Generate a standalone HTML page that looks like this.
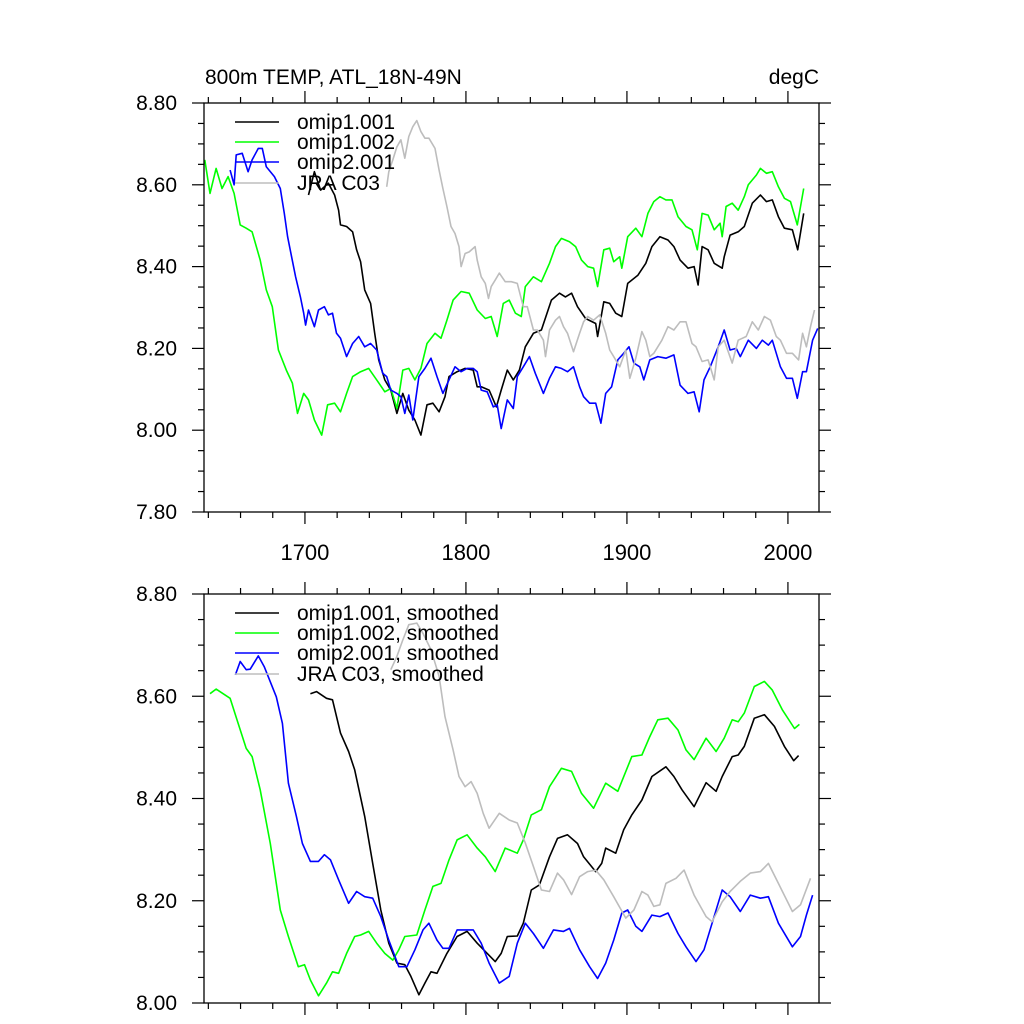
<!DOCTYPE html>
<html><head><meta charset="utf-8"><style>
html,body{margin:0;padding:0;background:#fff}
svg{display:block}
text{font-family:"Liberation Sans",sans-serif;fill:#000}
</style></head><body>
<svg id="chart" width="1024" height="1024" viewBox="0 0 1024 1024" xmlns="http://www.w3.org/2000/svg">
<text x="205" y="84" font-size="21">800m TEMP, ATL_18N-49N</text>
<text x="819" y="84" font-size="21" text-anchor="end">degC</text>
</svg>
<script>
// ---- Top panel (raw) ----
const top1Years=[1702.2,1705.9,1709.7,1714.6,1718.4,1720.9,1722.1,1725.9,1729.6,1732.1,1734.6,1737.1,1740.8,1743.3,1745.8,1749.6,1753.3,1757.1,1760.8,1764.5,1768.3,1772.0,1775.8,1779.5,1783.3,1787.0,1789.5,1794.5,1799.5,1804.5,1807.0,1809.5,1814.4,1818.9,1821.9,1825.7,1829.4,1833.2,1836.9,1841.9,1846.9,1853.1,1858.1,1861.8,1865.6,1869.3,1874.3,1880.6,1881.8,1885.6,1889.3,1893.0,1896.8,1900.5,1906.8,1911.7,1915.5,1920.5,1925.5,1929.2,1933.0,1937.9,1941.7,1944.2,1946.7,1950.4,1954.2,1959.2,1960.4,1964.1,1969.1,1972.9,1977.9,1982.9,1986.6,1990.3,1994.1,1997.8,2002.8,2006.1,2009.8];
const top1Vals=[8.575,8.632,8.587,8.604,8.575,8.538,8.502,8.498,8.485,8.441,8.412,8.343,8.310,8.237,8.172,8.123,8.098,8.041,8.090,8.049,8.025,7.988,8.062,8.066,8.045,8.082,8.131,8.143,8.151,8.147,8.106,8.106,8.098,8.057,8.098,8.147,8.123,8.147,8.204,8.237,8.245,8.318,8.335,8.326,8.335,8.302,8.273,8.261,8.229,8.314,8.310,8.286,8.278,8.359,8.379,8.408,8.449,8.473,8.465,8.449,8.416,8.396,8.400,8.355,8.449,8.441,8.408,8.396,8.424,8.477,8.485,8.498,8.555,8.575,8.559,8.563,8.522,8.494,8.490,8.441,8.530];
const top2Years=[1637.8,1641.0,1644.8,1648.5,1652.3,1656.0,1659.8,1663.5,1667.2,1672.2,1676.0,1679.7,1683.5,1688.4,1692.2,1695.4,1699.2,1702.2,1705.9,1710.4,1714.1,1718.4,1722.1,1725.9,1729.6,1734.6,1739.6,1744.6,1749.6,1753.3,1757.1,1760.8,1764.5,1768.3,1772.0,1775.8,1780.8,1784.5,1788.2,1792.0,1797.0,1802.0,1807.0,1812.0,1815.7,1819.4,1823.2,1826.9,1830.7,1834.4,1836.9,1841.9,1846.9,1851.9,1855.6,1859.3,1864.3,1868.1,1871.8,1875.6,1879.3,1881.8,1885.6,1889.3,1891.8,1895.5,1896.8,1900.5,1905.5,1909.3,1913.0,1916.7,1920.5,1924.2,1928.0,1931.7,1936.7,1940.4,1943.7,1946.7,1950.4,1954.2,1957.9,1959.2,1961.6,1965.4,1969.1,1972.9,1975.4,1980.4,1982.9,1986.6,1990.3,1994.1,1997.8,2001.6,2005.8,2009.8];
const top2Vals=[8.661,8.579,8.640,8.591,8.620,8.579,8.502,8.494,8.485,8.416,8.343,8.302,8.196,8.147,8.115,8.041,8.090,8.074,8.025,7.988,8.062,8.066,8.045,8.090,8.131,8.143,8.151,8.123,8.094,8.102,8.053,8.147,8.151,8.123,8.151,8.212,8.237,8.225,8.269,8.318,8.339,8.335,8.294,8.273,8.278,8.229,8.310,8.318,8.286,8.278,8.351,8.375,8.363,8.408,8.449,8.469,8.461,8.449,8.416,8.400,8.396,8.351,8.441,8.445,8.412,8.424,8.396,8.473,8.494,8.473,8.530,8.559,8.571,8.563,8.563,8.522,8.498,8.490,8.441,8.530,8.526,8.490,8.506,8.473,8.547,8.555,8.538,8.571,8.600,8.624,8.640,8.628,8.632,8.595,8.567,8.559,8.502,8.591];
const top3Years=[1653.5,1656.0,1657.3,1661.0,1664.7,1667.2,1671.0,1673.5,1676.0,1681.0,1684.7,1687.2,1689.2,1691.7,1694.2,1697.2,1699.2,1700.4,1702.2,1705.9,1708.4,1712.1,1714.6,1717.1,1719.6,1722.1,1725.9,1729.6,1733.4,1737.1,1740.8,1744.6,1748.3,1750.8,1753.3,1757.1,1759.6,1762.0,1764.5,1767.0,1770.8,1774.5,1778.3,1782.0,1785.7,1789.5,1793.2,1797.0,1800.7,1804.5,1807.0,1809.5,1813.2,1817.0,1819.4,1821.9,1825.7,1829.4,1831.9,1835.6,1839.4,1843.1,1848.1,1851.9,1855.6,1859.3,1863.1,1866.8,1870.6,1873.1,1876.8,1880.6,1883.8,1886.8,1890.5,1894.3,1898.0,1901.3,1904.3,1908.0,1910.5,1914.2,1919.2,1924.2,1929.2,1933.0,1937.9,1941.7,1944.9,1947.9,1951.7,1956.7,1960.4,1964.1,1967.9,1970.4,1975.4,1980.4,1984.1,1987.9,1990.3,1995.3,1999.1,2002.8,2005.8,2009.1,2011.5,2015.3,2018.5];
const top3Vals=[8.636,8.600,8.673,8.677,8.632,8.661,8.689,8.689,8.644,8.620,8.591,8.530,8.473,8.424,8.375,8.326,8.286,8.257,8.294,8.253,8.294,8.302,8.282,8.286,8.237,8.225,8.180,8.212,8.229,8.204,8.212,8.196,8.139,8.131,8.098,8.090,8.082,8.041,8.086,8.025,8.131,8.151,8.176,8.131,8.090,8.123,8.155,8.143,8.151,8.151,8.143,8.098,8.094,8.057,8.062,8.004,8.074,8.053,8.131,8.155,8.180,8.139,8.090,8.127,8.155,8.151,8.143,8.155,8.106,8.082,8.066,8.066,8.017,8.090,8.106,8.172,8.188,8.204,8.164,8.155,8.123,8.172,8.180,8.176,8.184,8.110,8.090,8.094,8.045,8.123,8.155,8.204,8.245,8.196,8.200,8.180,8.220,8.200,8.220,8.208,8.220,8.155,8.127,8.127,8.078,8.143,8.143,8.220,8.249];
const top4Years=[1750.8,1752.1,1754.6,1757.1,1759.6,1762.0,1764.5,1767.0,1769.5,1772.0,1774.5,1777.0,1780.8,1783.3,1785.7,1788.2,1790.7,1793.2,1795.7,1797.0,1799.5,1802.0,1805.7,1807.0,1809.5,1812.0,1814.0,1815.7,1818.2,1820.7,1824.4,1828.2,1831.9,1835.6,1838.1,1841.9,1844.4,1848.1,1849.4,1851.9,1855.6,1858.1,1860.6,1863.1,1866.8,1870.6,1873.1,1875.6,1879.3,1883.1,1886.8,1889.3,1891.8,1895.5,1899.3,1901.8,1905.5,1909.3,1911.7,1914.2,1916.7,1921.7,1925.5,1929.2,1933.0,1936.7,1940.4,1942.9,1946.7,1950.4,1954.2,1956.7,1960.4,1965.4,1969.1,1974.1,1977.9,1981.6,1985.4,1989.1,1992.8,1995.3,1999.1,2002.8,2006.6,2009.1,2011.5,2014.0,2016.5];
const top4Vals=[8.595,8.632,8.661,8.693,8.710,8.665,8.718,8.742,8.757,8.730,8.714,8.714,8.689,8.636,8.591,8.547,8.498,8.481,8.449,8.400,8.432,8.436,8.449,8.416,8.375,8.359,8.322,8.351,8.367,8.384,8.363,8.363,8.359,8.302,8.302,8.245,8.245,8.220,8.180,8.245,8.269,8.278,8.253,8.237,8.192,8.237,8.265,8.278,8.269,8.282,8.237,8.196,8.180,8.155,8.196,8.127,8.176,8.241,8.220,8.180,8.188,8.220,8.253,8.245,8.265,8.265,8.212,8.204,8.168,8.172,8.123,8.204,8.220,8.164,8.220,8.229,8.265,8.245,8.278,8.269,8.229,8.220,8.188,8.188,8.172,8.237,8.204,8.253,8.294];
// ---- Bottom panel (smoothed) ----
const bot1Years=[1703.4,1707.2,1713.4,1717.1,1722.1,1727.1,1730.9,1737.1,1742.1,1747.1,1752.1,1757.1,1762.0,1765.8,1770.8,1774.5,1778.3,1782.0,1788.2,1794.5,1800.7,1807.0,1813.2,1818.2,1821.9,1825.7,1831.9,1835.6,1840.6,1845.6,1851.9,1856.9,1863.1,1869.3,1873.1,1880.6,1884.3,1886.8,1893.0,1898.0,1903.0,1909.3,1915.5,1924.2,1929.2,1934.2,1941.7,1949.2,1955.4,1959.2,1965.4,1969.1,1972.9,1979.1,1985.4,1991.6,1997.8,2003.6,2006.6];
const bot1Vals=[8.605,8.609,8.596,8.593,8.528,8.492,8.456,8.365,8.273,8.182,8.117,8.078,8.075,8.052,8.016,8.039,8.061,8.058,8.097,8.130,8.140,8.117,8.097,8.081,8.097,8.130,8.131,8.156,8.221,8.231,8.286,8.322,8.329,8.312,8.286,8.257,8.273,8.303,8.293,8.339,8.368,8.397,8.443,8.462,8.443,8.417,8.384,8.431,8.414,8.443,8.482,8.485,8.502,8.557,8.564,8.541,8.502,8.474,8.484];
const bot2Years=[1641.0,1644.8,1653.5,1658.5,1663.5,1667.2,1672.2,1678.5,1684.7,1689.7,1695.9,1699.7,1703.4,1708.4,1713.4,1717.1,1720.9,1725.9,1730.9,1734.6,1739.6,1744.6,1749.6,1754.6,1758.3,1762.0,1769.5,1774.5,1779.5,1784.5,1789.5,1794.5,1800.7,1807.0,1812.0,1818.2,1824.4,1831.9,1835.6,1840.6,1846.9,1851.9,1859.3,1865.6,1871.8,1879.3,1886.8,1894.3,1903.0,1909.3,1914.2,1919.2,1925.5,1931.7,1936.7,1941.7,1949.2,1955.4,1960.4,1965.4,1969.1,1972.9,1979.1,1985.4,1990.3,1996.6,2004.1,2007.1];
const bot2Vals=[8.605,8.614,8.596,8.547,8.498,8.482,8.417,8.312,8.182,8.130,8.071,8.075,8.045,8.014,8.039,8.061,8.058,8.097,8.130,8.133,8.140,8.117,8.097,8.084,8.104,8.130,8.133,8.182,8.228,8.234,8.280,8.319,8.329,8.303,8.286,8.257,8.303,8.293,8.319,8.368,8.378,8.423,8.459,8.453,8.410,8.381,8.430,8.414,8.482,8.485,8.521,8.554,8.557,8.534,8.495,8.476,8.518,8.492,8.518,8.554,8.550,8.567,8.619,8.629,8.612,8.573,8.537,8.545];
const bot3Years=[1656.8,1659.8,1663.5,1666.0,1671.0,1674.7,1682.2,1686.0,1689.7,1694.7,1698.4,1703.4,1708.4,1712.1,1715.9,1720.9,1727.1,1732.1,1737.1,1742.1,1747.1,1752.1,1758.3,1763.3,1768.3,1773.3,1777.0,1782.0,1785.7,1789.5,1794.5,1800.7,1804.5,1809.5,1814.4,1820.7,1826.9,1831.9,1836.9,1841.9,1848.1,1854.4,1860.6,1864.3,1870.6,1876.8,1881.8,1886.8,1891.8,1896.8,1900.5,1905.5,1909.3,1915.5,1920.5,1925.5,1931.7,1936.7,1942.9,1947.9,1952.9,1959.2,1964.1,1970.4,1976.6,1982.9,1987.9,1994.1,2002.8,2007.8,2011.5,2015.3];
const bot3Vals=[8.642,8.668,8.652,8.653,8.679,8.658,8.599,8.547,8.430,8.365,8.312,8.277,8.277,8.290,8.280,8.241,8.195,8.218,8.208,8.205,8.169,8.123,8.071,8.071,8.104,8.143,8.156,8.123,8.107,8.107,8.143,8.143,8.143,8.117,8.078,8.039,8.052,8.117,8.156,8.136,8.107,8.143,8.140,8.146,8.104,8.071,8.048,8.078,8.123,8.176,8.182,8.150,8.140,8.172,8.169,8.176,8.136,8.110,8.081,8.104,8.156,8.221,8.208,8.179,8.211,8.205,8.208,8.156,8.110,8.130,8.172,8.211];
const bot4Years=[1753.3,1757.1,1760.8,1764.5,1769.5,1773.3,1778.3,1783.3,1787.0,1792.0,1795.7,1799.5,1803.2,1807.0,1810.7,1814.4,1820.7,1826.9,1831.9,1836.9,1841.9,1846.9,1851.9,1856.9,1860.6,1865.6,1870.6,1875.6,1880.6,1885.6,1891.8,1899.3,1904.3,1909.3,1913.0,1916.7,1920.5,1924.2,1930.5,1935.5,1941.7,1949.2,1952.9,1959.2,1964.1,1970.4,1976.6,1982.9,1987.9,1994.1,2002.8,2007.8,2014.0];
const bot4Vals=[8.652,8.678,8.710,8.740,8.743,8.723,8.691,8.639,8.560,8.495,8.443,8.423,8.433,8.410,8.371,8.342,8.371,8.358,8.352,8.313,8.267,8.221,8.218,8.254,8.241,8.212,8.247,8.257,8.260,8.241,8.208,8.166,8.182,8.218,8.211,8.189,8.192,8.234,8.244,8.260,8.211,8.169,8.159,8.198,8.218,8.238,8.254,8.257,8.273,8.234,8.179,8.192,8.244];
// ticks
const xMajorTicks=[1700,1800,1900,2000];
const xTickLabels=["1700","1800","1900","2000"];
const topYTicks=[7.8,8.0,8.2,8.4,8.6,8.8];
const topYLabels=["7.80","8.00","8.20","8.40","8.60","8.80"];
const botYTicks=[8.0,8.2,8.4,8.6,8.8];
const botYLabels=["8.00","8.20","8.40","8.60","8.80"];
const topLegend=["omip1.001","omip1.002","omip2.001","JRA C03"];
const botLegend=["omip1.001, smoothed","omip1.002, smoothed","omip2.001, smoothed","JRA C03, smoothed"];

const NS="http://www.w3.org/2000/svg";
const svg=document.getElementById('chart');
const colors=["#000000","#00ff00","#0000ff","#bdbdbd"];
const L=204,R=819,X0=1637.3,X1=2019.3;
function xs(y){return L+(y-X0)/(X1-X0)*(R-L);}
function mk(tag,attrs){const e=document.createElementNS(NS,tag);for(const k in attrs)e.setAttribute(k,attrs[k]);return e;}

function panel(name,T,B,ymin,ymax,yTicks,yLabels,series,legend,showX){
  const g=mk('g',{});
  
  
  svg.appendChild(g);
  const ys=v=>B-(v-ymin)/(ymax-ymin)*(B-T);
  const clipId=name+'-clip';
  const cp=mk('clipPath',{id:clipId});cp.appendChild(mk('rect',{x:L,y:T,width:R-L,height:B-T}));g.appendChild(cp);
  series.forEach((s,i)=>{
    let d='';
    s[0].forEach((yr,j)=>{d+=(j?'L':'M')+xs(yr).toFixed(1)+','+ys(s[1][j]).toFixed(1);});
    const p=mk('path',{d:d,fill:'none',stroke:colors[i],'stroke-width':1.6,'stroke-linejoin':'round','clip-path':'url(#'+clipId+')'});
    
    
    g.appendChild(p);
  });
  const fr=mk('rect',{x:L,y:T,width:R-L,height:B-T,fill:'none',stroke:'#000','stroke-width':1.3});
  
  
  g.appendChild(fr);
  for(let yr=1640;yr<=2019;yr+=20){
    const maj=yr%100===0, len=maj?12:6, x=xs(yr);
    g.appendChild(mk('line',{x1:x,x2:x,y1:B,y2:B+len,stroke:'#000','stroke-width':1.2}));
    g.appendChild(mk('line',{x1:x,x2:x,y1:T,y2:T-len,stroke:'#000','stroke-width':1.2}));
  }
  if(showX){
    xMajorTicks.forEach((yr,i)=>{
      const t=mk('text',{x:xs(yr),y:B+48,'font-size':22,'text-anchor':'middle'});
      t.textContent=xTickLabels[i];
      
      
      g.appendChild(t);
    });
  }
  for(let k=Math.round(ymin*20);k<=Math.round(ymax*20);k++){
    const v=k/20, maj=k%4===0, len=maj?12:6, y=ys(v);
    g.appendChild(mk('line',{x1:L,x2:L-len,y1:y,y2:y,stroke:'#000','stroke-width':1.2}));
    g.appendChild(mk('line',{x1:R,x2:R+len,y1:y,y2:y,stroke:'#000','stroke-width':1.2}));
  }
  yTicks.forEach((v,i)=>{
    const t=mk('text',{x:177,y:ys(v)+7,'font-size':21,'text-anchor':'end'});
    t.textContent=yLabels[i];
    
    
    g.appendChild(t);
  });
  const ly=[T+19,T+39,T+59,T+80];
  legend.forEach((lab,i)=>{
    const ln=mk('line',{x1:235,x2:279,y1:ly[i],y2:ly[i],stroke:colors[i],'stroke-width':1.6});
    
    
    g.appendChild(ln);
    const t=mk('text',{x:297,y:ly[i]+7,'font-size':21});
    t.textContent=lab;
    
    
    g.appendChild(t);
  });
}
panel('raw-panel',103,512,7.8,8.8,topYTicks,topYLabels,
  [[top1Years,top1Vals],[top2Years,top2Vals],[top3Years,top3Vals],[top4Years,top4Vals]],topLegend,true);
panel('smoothed-panel',594,1003,8.0,8.8,botYTicks,botYLabels,
  [[bot1Years,bot1Vals],[bot2Years,bot2Vals],[bot3Years,bot3Vals],[bot4Years,bot4Vals]],botLegend,false);
</script>
</body></html>
